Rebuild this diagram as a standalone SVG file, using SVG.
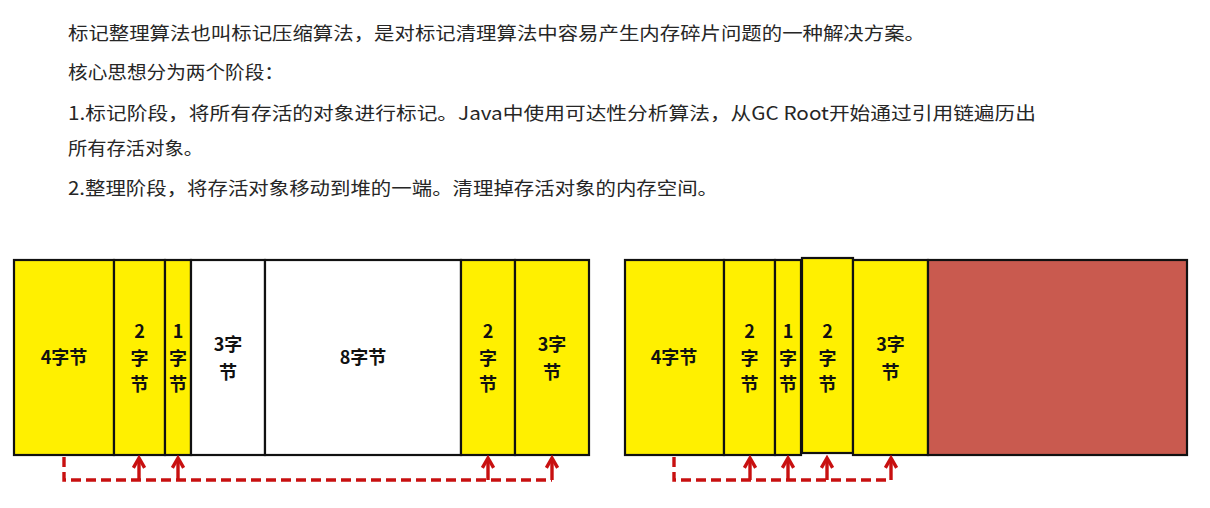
<svg xmlns="http://www.w3.org/2000/svg" width="1210" height="508" viewBox="0 0 1210 508">
<style>
.t{font-family:"Noto Sans CJK SC","Noto Sans",sans-serif;font-size:18.5px;fill:#262626}
.y{fill:#FFF000;stroke:#111;stroke-width:2.2}
.w{fill:#FFFFFF;stroke:#111;stroke-width:2.2}
.r{fill:#C95A4F;stroke:#111;stroke-width:2.2}
.l{font-family:"Noto Sans CJK SC","Noto Sans",sans-serif;font-size:18px;font-weight:bold;fill:#111;text-anchor:middle}
.d{fill:none;stroke:#C81010;stroke-width:3.4;stroke-dasharray:10 5}
.a{fill:none;stroke:#C81010;stroke-width:3.4}
</style>
<defs>
<marker id="ah" viewBox="0 0 10 10" refX="8" refY="5" markerUnits="userSpaceOnUse" markerWidth="14" markerHeight="14" orient="auto">
<path d="M1,1 L8,5 L1,9" fill="none" stroke="#C81010" stroke-width="2.4"/>
</marker>
</defs>
<rect width="1210" height="508" fill="#FFFFFF"/>
<g id="text">
<text class="t" x="68" y="40" textLength="857" lengthAdjust="spacingAndGlyphs">标记整理算法也叫标记压缩算法，是对标记清理算法中容易产生内存碎片问题的一种解决方案。</text>
<text class="t" x="68" y="79" textLength="216" lengthAdjust="spacingAndGlyphs">核心思想分为两个阶段：</text>
<text class="t" x="68" y="120" textLength="968" lengthAdjust="spacingAndGlyphs">1.标记阶段，将所有存活的对象进行标记。Java中使用可达性分析算法，从GC Root开始通过引用链遍历出</text>
<text class="t" x="68" y="155" textLength="135" lengthAdjust="spacingAndGlyphs">所有存活对象。</text>
<text class="t" x="68" y="195" textLength="650" lengthAdjust="spacingAndGlyphs">2.整理阶段，将存活对象移动到堆的一端。清理掉存活对象的内存空间。</text>
</g>
<g id="before">
<g id="b4"><rect class="y" x="14" y="260" width="100" height="195"/><text class="l" x="64" y="364">4字节</text></g>
<g id="b2a"><rect class="y" x="114" y="260" width="51" height="195"/><text class="l" x="139.5" y="338">2<tspan x="139.5" dy="26.5">字</tspan><tspan x="139.5" dy="26.5">节</tspan></text></g>
<g id="b1"><rect class="y" x="165" y="260" width="26" height="195"/><text class="l" x="178" y="338">1<tspan x="178" dy="26.5">字</tspan><tspan x="178" dy="26.5">节</tspan></text></g>
<g id="b3w"><rect class="w" x="191" y="260" width="74" height="195"/><text class="l" x="228" y="351">3字<tspan x="228" dy="27.5">节</tspan></text></g>
<g id="b8"><rect class="w" x="265" y="260" width="196" height="195"/><text class="l" x="363" y="364">8字节</text></g>
<g id="b2b"><rect class="y" x="461" y="260" width="54" height="195"/><text class="l" x="488" y="338">2<tspan x="488" dy="26.5">字</tspan><tspan x="488" dy="26.5">节</tspan></text></g>
<g id="b3"><rect class="y" x="515" y="260" width="74" height="195"/><text class="l" x="552" y="351">3字<tspan x="552" dy="27.5">节</tspan></text></g>
</g>
<g id="after">
<g id="a4"><rect class="y" x="625" y="260" width="99" height="195"/><text class="l" x="674" y="364">4字节</text></g>
<g id="a2a"><rect class="y" x="724" y="260" width="51" height="195"/><text class="l" x="749.5" y="338">2<tspan x="749.5" dy="26.5">字</tspan><tspan x="749.5" dy="26.5">节</tspan></text></g>
<g id="a1"><rect class="y" x="775" y="260" width="26" height="195"/><text class="l" x="788" y="338">1<tspan x="788" dy="26.5">字</tspan><tspan x="788" dy="26.5">节</tspan></text></g>
<g id="a2b"><rect class="y" x="802" y="258" width="51" height="195"/><text class="l" x="827.5" y="338">2<tspan x="827.5" dy="26.5">字</tspan><tspan x="827.5" dy="26.5">节</tspan></text></g>
<g id="a3"><rect class="y" x="853" y="260" width="75" height="195"/><text class="l" x="890.5" y="351">3字<tspan x="890.5" dy="27.5">节</tspan></text></g>
<g id="afree"><rect class="r" x="928" y="260" width="259" height="195"/></g>
</g>
<g id="connectors">
<path class="d" d="M64,457 V480 H552"/>
<path class="a" d="M139,480 V458" marker-end="url(#ah)"/>
<path class="a" d="M178,480 V458" marker-end="url(#ah)"/>
<path class="a" d="M488,480 V458" marker-end="url(#ah)"/>
<path class="a" d="M552,480 V458" marker-end="url(#ah)"/>
<path class="d" d="M674,457 V480 H891"/>
<path class="a" d="M750,480 V458" marker-end="url(#ah)"/>
<path class="a" d="M788,480 V458" marker-end="url(#ah)"/>
<path class="a" d="M827,480 V458" marker-end="url(#ah)"/>
<path class="a" d="M891,480 V458" marker-end="url(#ah)"/>
</g>
</svg>
